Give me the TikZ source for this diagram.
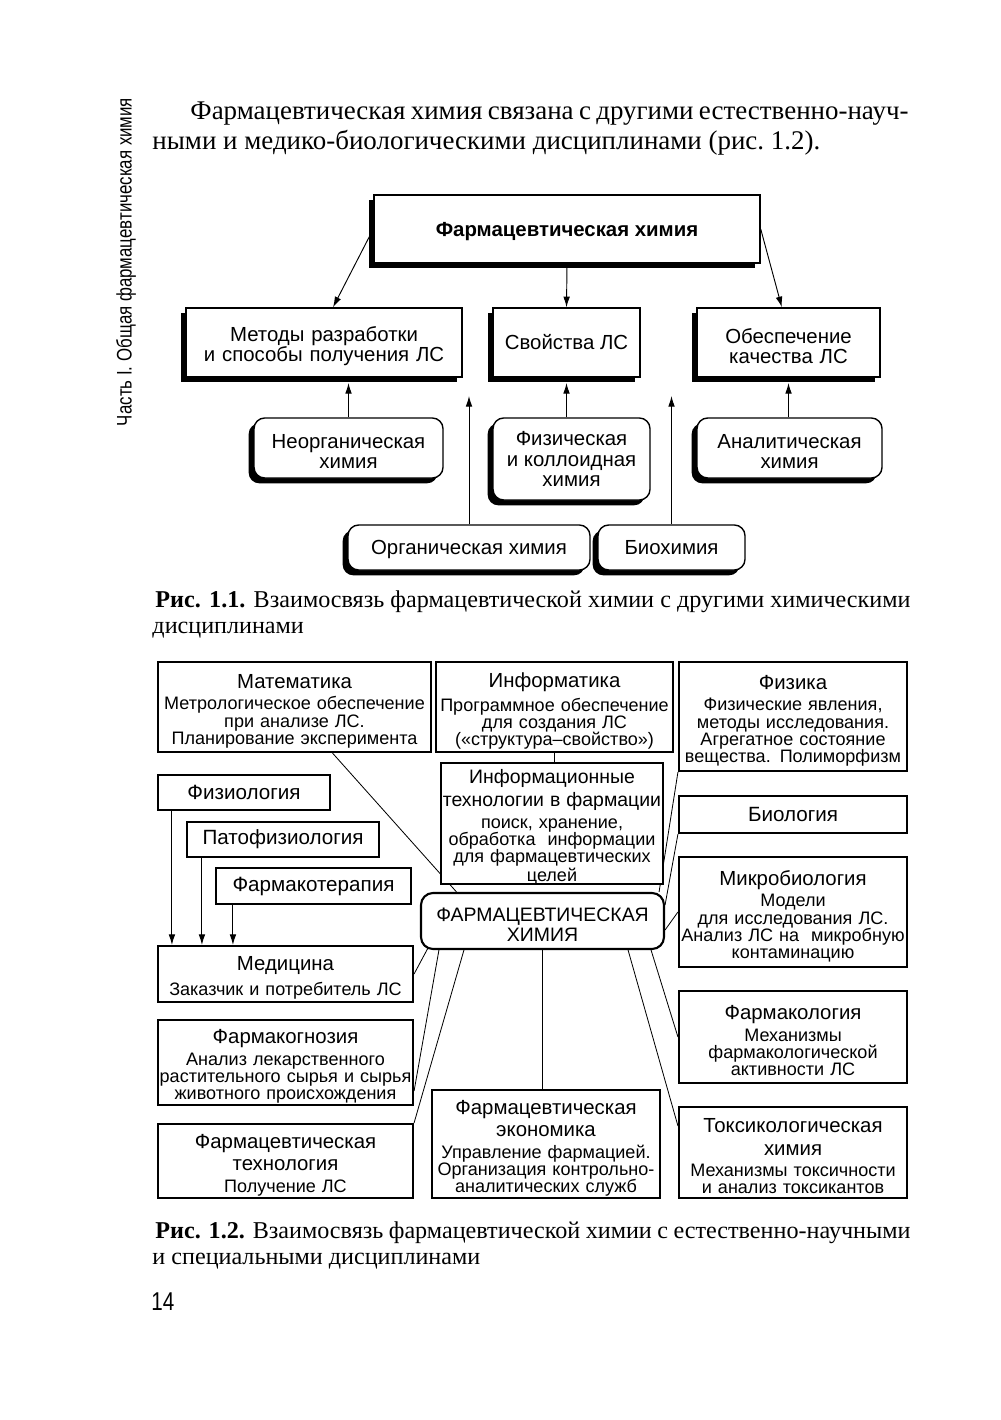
\documentclass[tikz,border=0pt]{standalone}
\usepackage{fontspec}
\setmainfont{Liberation Serif}
\setsansfont{Liberation Sans}
\newfontfamily\narrowsf[FakeStretch=0.8]{Liberation Sans}
\usetikzlibrary{arrows.meta,positioning,shadows,backgrounds,calc}
\newcommand{\hd}[1]{{\fontsize{8.7}{9.4}\selectfont #1\par}\vspace{2pt}}

\begin{document}
\begin{tikzpicture}[x=0.15mm, y=-0.15mm,
  every node/.style={font=\sffamily},
  txt/.style={anchor=base west, inner sep=0pt, font=\rmfamily\fontsize{11.5}{13}\selectfont},
  captxt/.style={txt, font=\rmfamily\fontsize{10.3}{13}\selectfont},
  sbox/.style={draw, fill=white, line width=0.6pt, align=center, inner sep=1pt,
    font=\sffamily\fontsize{8.7}{8.6}\selectfont,
    drop shadow={shadow xshift=-0.8mm, shadow yshift=-0.8mm, opacity=1, fill=black}},
  rbox/.style={sbox, rounded corners=1.6mm},
  low/.style={inner xsep=0pt, execute at end node={\vspace{-1.1mm}}},
  box/.style={draw, fill=white, line width=0.9pt, align=center, inner xsep=0pt, inner ysep=1pt,
    font=\sffamily\fontsize{7.7}{7.3}\selectfont},
  multi/.style={box, execute at end node={\vspace{-1.2mm}}},
  one/.style={box, font=\sffamily\fontsize{8.8}{9.4}\selectfont},
  arr/.style={-{Latex[length=1.6mm,width=1mm]}, line width=0.4pt},
  ln/.style={line width=0.35pt}
]
\useasboundingbox (0,0) rectangle (1000,1420);
% running head and text
\node[rotate=90, inner sep=0pt, font=\narrowsf\fontsize{9}{10}\selectfont] (head) at (126,262) {Часть I. Общая фармацевтическая химия};
\node[txt] (l1) at (190,120) {\makebox[107.7mm][s]{Фармацевтическая химия связана с другими естественно-науч-}};
\node[txt] (l2) at (152,150) {ными и медико-биологическими дисциплинами (рис.~1.2).};

% fig 1.1
\node[sbox, minimum width=57.9mm, minimum height=10.2mm, text depth=0pt, font=\sffamily\bfseries\fontsize{8.7}{9}\selectfont] (tfc) at (567,229) {Фармацевтическая химия};
\node[sbox, low, text width=41.4mm, minimum height=10.35mm] (mrz) at (324,342.5) {Методы разработки\\и способы получения ЛС};
\node[sbox, minimum width=22.05mm, minimum height=10.35mm] (svo) at (566.5,342.5) {Свойства ЛС};
\node[sbox, low, text width=27.45mm, minimum height=10.35mm] (obe) at (788.5,342.5) {Обеспечение\\качества ЛС};
\node[rbox, low, text width=28.35mm, minimum height=9mm] (ino) at (348.5,448) {Неорганическая\\химия};
\node[rbox, minimum width=23.55mm, minimum height=12.3mm] (fkh) at (571.5,459) {Физическая\\и коллоидная\\химия};
\node[rbox, low, text width=27.75mm, minimum height=9mm] (ana) at (789.5,448) {Аналитическая\\химия};
\node[rbox, minimum width=36.3mm, minimum height=6.75mm, text depth=0pt] (org) at (469,547.5) {Органическая химия};
\node[rbox, minimum width=22.05mm, minimum height=6.75mm, text depth=0pt] (bch) at (671.5,547.5) {Биохимия};
\coordinate (row1) at (0,383);
\coordinate (row2) at (0,396);
\draw[arr] (tfc.west) -- ([xshift=1.35mm]mrz.north); \draw[arr] (tfc.south) -- (svo.north);
\draw[arr] (tfc.east) -- ([xshift=-1mm]obe.north);
\draw[arr] (ino.north) -- (ino.north |- row1); \draw[arr] (svo.south |- fkh.north) -- (svo.south |- row1);
\draw[arr] (obe.south |- ana.north) -- (obe.south |- row1);
\draw[arr] (org.north) -- (org.north |- row2); \draw[arr] (bch.north) -- (bch.north |- row2);

\node[captxt] (c1a) at (155,607) {\makebox[113.25mm][s]{\textbf{Рис. 1.1.} Взаимосвязь фармацевтической химии с другими химическими}};
\node[captxt] (c1b) at (152,633) {дисциплинами};

% fig 1.2
\node[multi, text width=40.95mm, minimum height=13.5mm] (mat) at (294.5,707) {\hd{Математика}Метрологическое обеспечение\\при анализе ЛС.\\Планирование эксперимента};
\node[multi, text width=35.55mm, minimum height=13.5mm] (inf) at (554.5,707) {\hd{Информатика}Программное обеспечение\\для создания ЛС\\(«структура–свойство»)};
\node[multi, text width=34.2mm, minimum height=16.35mm] (fiz) at (793,716.5) {\hd{Физика}Физические явления,\\методы исследования.\\Агрегатное состояние\\вещества. Полиморфизм};
\node[one, text width=25.8mm, minimum height=5.25mm] (physio) at (244,792.5) {Физиология};
\node[one, text width=28.8mm, minimum height=5.25mm] (pato) at (283,839.5) {Патофизиология};
\node[one, text width=29.25mm, minimum height=5.4mm] (fther) at (313.5,886) {Фармакотерапия};
\node[multi, text width=33.3mm, minimum height=18.15mm] (it) at (552,823.5) {\hd{\fontsize{8.3}{9.8}\selectfont Информационные\\технологии в фармации}поиск, хранение,\\обработка~ информации\\для фармацевтических\\целей};
\node[one, text width=34.2mm, minimum height=5.55mm] (bio) at (793,814.5) {Биология};
\node[multi, text width=34.2mm, minimum height=16.5mm] (mic) at (793,912) {\hd{Микробиология}Модели\\для исследования ЛС.\\Анализ ЛС на~ микробную\\контаминацию};
\node[multi, rounded corners=1.8mm, text width=36.45mm, minimum height=8.4mm, font=\sffamily\fontsize{8.3}{8.4}\selectfont] (fh) at (542.5,921) {ФАРМАЦЕВТИЧЕСКАЯ\\ХИМИЯ};
\node[multi, text width=38.25mm, minimum height=8.4mm] (med) at (285.5,974) {\hd{Медицина}Заказчик и потребитель ЛС};
\node[multi, text width=38.25mm, minimum height=12.75mm] (fkg) at (285.5,1062.5) {\hd{Фармакогнозия}Анализ лекарственного\\растительного сырья и сырья\\животного происхождения};
\node[multi, text width=38.25mm, minimum height=11.1mm] (ftech) at (285.5,1161) {\hd{Фармацевтическая\\технология}Получение ЛС};
\node[multi, text width=34.2mm, minimum height=16.2mm] (econ) at (546,1144) {\hd{Фармацевтическая\\экономика}Управление фармацией.\\Организация контрольно-\\аналитических служб};
\node[multi, text width=34.2mm, minimum height=13.8mm] (fkl) at (793,1037) {\hd{Фармакология}Механизмы\\фармакологической\\активности ЛС};
\node[multi, text width=34.2mm, minimum height=13.65mm] (tox) at (793,1152.5) {\hd{Токсикологическая\\химия}Механизмы токсичности\\и анализ токсикантов};
\coordinate (a1) at ($(med.north west)+(15,0)$);
\coordinate (a2) at ($(med.north west)+(45,0)$);
\coordinate (a3) at ($(med.north west)+(76,0)$);
\draw[arr] (a1 |- physio.south) -- (a1); \draw[arr] (a2 |- pato.south) -- (a2); \draw[arr] (a3 |- fther.south) -- (a3);
\begin{scope}[on background layer]
\draw[ln] ($(mat.south)+(38,0)$) -- ($(fh.north)+(-86,0)$);
\draw[ln] (inf.south) -- (inf.south |- it.north);
\draw[ln] (fiz.south west) -- ($(fh.north east)+(-6,0)$); \draw[ln] (bio.south west) -- ($(fh.east)+(0,-16)$);
\draw[ln] (mic.west) -- ($(fh.east)+(0,9)$);
\draw[ln] ($(fh.south east)+(-14,0)$) -- (fkl.west); \draw[ln] ($(fh.south east)+(-37,0)$) -- ($(tox.north west)+(0,20)$);
\draw[ln] (fh.south) -- (fh.south |- econ.north);
\draw[ln] ($(fh.south west)+(8,-2)$) -- (med.east); \draw[ln] ($(fh.south west)+(19,0)$) -- ($(fkg.south east)+(0,-15)$);
\draw[ln] ($(fh.south west)+(44,0)$) -- (ftech.north east);
\end{scope}

\node[captxt] (c2a) at (155,1238) {\makebox[113.25mm][s]{\textbf{Рис. 1.2.} Взаимосвязь фармацевтической химии с естественно-научными}};
\node[captxt] (c2b) at (152,1264) {и специальными дисциплинами};
\node[anchor=base west, inner sep=0pt, font=\narrowsf\fontsize{11}{12}\selectfont] (pg) at (151,1310) {14};
\end{tikzpicture}
\end{document}
